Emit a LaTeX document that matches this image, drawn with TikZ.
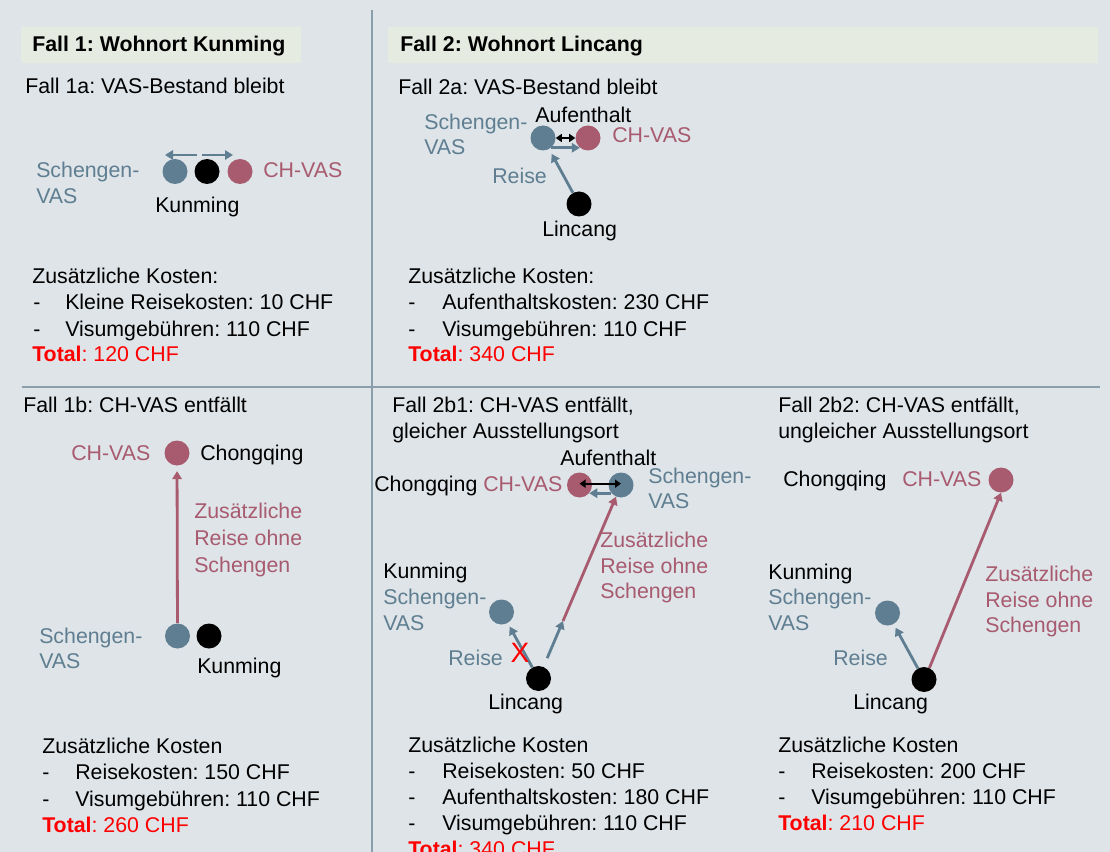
\documentclass[tikz,border=0pt]{standalone}
\usepackage{fontspec}
\setmainfont{Liberation Sans}
\usetikzlibrary{arrows.meta}
\definecolor{bg}{HTML}{DEE4E8}
\definecolor{hdr}{HTML}{E6EBE1}
\definecolor{rulec}{HTML}{8A9EAC}
\definecolor{schblue}{HTML}{5F7E91}
\definecolor{chred}{HTML}{A85A6F}
\definecolor{tot}{HTML}{FF0000}
\newcommand\myfs{\fontsize{16}{19}\selectfont\frenchspacing}
\begin{document}
\begin{tikzpicture}[x=0.75pt,y=-0.75pt,
  txt/.style={font=\myfs, inner sep=0pt, anchor=base west},
  btxt/.style={txt, font=\myfs\bfseries},
  bluetxt/.style={txt, text=schblue},
  redtxt/.style={txt, text=chred},
  tottxt/.style={txt, text=tot},
  dot/.style={circle, minimum size=18.75pt, inner sep=0pt},
  bdot/.style={dot, fill=schblue},
  rdot/.style={dot, fill=chred},
  kdot/.style={dot, fill=black},
  barr/.style={draw=schblue, line width=2.1pt, -{Triangle[length=6pt,width=7pt]}},
  marr/.style={draw=chred, line width=2.1pt, -{Triangle[length=6pt,width=7pt]}},
  dbl/.style={draw=black, line width=1.4pt, {Triangle[length=4.5pt,width=6pt]}-{Triangle[length=4.5pt,width=6pt]}},
  rulel/.style={draw=rulec, line width=1.1pt}
]
\useasboundingbox (0,0) rectangle (1110,852);
\fill[bg] (0,0) rectangle (1110,852);
% dividers
\draw[rulel] (372,10) -- (372,852);
\draw[rulel] (22,387) -- (1100,387);
% headers
\fill[hdr] (21,27) rectangle (301,63);
\fill[hdr] (388,27) rectangle (1098,63);
\node[btxt] (h1) at (32,52) {Fall 1: Wohnort Kunming};
\node[btxt] (h2) at (400,52) {Fall 2: Wohnort Lincang};

% ---------- Fall 1a
\node[txt] (t1a) at (25,94) {Fall 1a: VAS-Bestand bleibt};
\node[bdot] (s1a) at (175,171.5) {};
\node[kdot] (k1a) at (207,171.5) {};
\node[rdot] (c1a) at (240,171.5) {};
\coordinate (a1t) at (197,155);
\coordinate (a1h) at (165,155);
\coordinate (a2t) at (202,155);
\coordinate (a2h) at (233,155);
\draw[barr] (a1t) -- (a1h);
\draw[barr] (a2t) -- (a2h);
\node[bluetxt] (sv1a) at (36,178) {Schengen-};
\node[bluetxt] (sv1b) at (36,204) {VAS};
\node[redtxt] (ch1a) at (263,178) {CH-VAS};
\node[txt] (ku1a) at (155,213) {Kunming};
\node[txt] (zk1a) at (32,284) {Zusätzliche Kosten:};
\node[txt] (d1a1) at (33,310) {-};
\node[txt] (l1a1) at (65,310) {Kleine Reisekosten: 10 CHF};
\node[txt] (d1a2) at (33,336) {-};
\node[txt] (l1a2) at (65,336) {Visumgebühren: 110 CHF};
\node[tottxt] (to1a) at (32,361) {\textbf{Total}: 120 CHF};

% ---------- Fall 2a
\node[txt] (t2a) at (398,95) {Fall 2a: VAS-Bestand bleibt};
\node[bdot] (s2a) at (543,138) {};
\node[rdot] (c2a) at (588,138) {};
\node[kdot] (l2a) at (579,204) {};
\draw[dbl] (s2a) -- (c2a);
\draw[barr] (s2a.-50) -- (c2a.-130);
\draw[barr, shorten >=4pt] (l2a) -- (s2a);
\node[txt] (au2a) at (535,123) {Aufenthalt};
\node[bluetxt] (sv2a) at (424,130) {Schengen-};
\node[bluetxt] (sv2b) at (424,155) {VAS};
\node[redtxt] (ch2a) at (612,143) {CH-VAS};
\node[bluetxt] (re2a) at (492,184) {Reise};
\node[txt] (li2a) at (542,237) {Lincang};
\node[txt] (zk2a) at (408,284) {Zusätzliche Kosten:};
\node[txt] (d2a1) at (408,310) {-};
\node[txt] (l2a1) at (442,310) {Aufenthaltskosten: 230 CHF};
\node[txt] (d2a2) at (408,336) {-};
\node[txt] (l2a2) at (442,336) {Visumgebühren: 110 CHF};
\node[tottxt] (to2a) at (408,361) {\textbf{Total}: 340 CHF};

% ---------- Fall 1b
\node[txt] (t1b) at (23,412) {Fall 1b: CH-VAS entfällt};
\node[rdot] (c1b) at (177,453) {};
\node[bdot] (s1b) at (177.5,636) {};
\node[kdot] (k1b) at (209,636) {};
\draw[marr, shorten >=4pt] (s1b) -- (c1b);
\node[redtxt] (ch1b) at (71,460) {CH-VAS};
\node[txt] (cq1b) at (200,460) {Chongqing};
\node[redtxt] (zr1a) at (194,518) {Zusätzliche};
\node[redtxt] (zr1b) at (194,545) {Reise ohne};
\node[redtxt] (zr1c) at (194,572) {Schengen};
\node[bluetxt] (sv1c) at (39,643) {Schengen-};
\node[bluetxt] (sv1d) at (39,668) {VAS};
\node[txt] (ku1b) at (197,673) {Kunming};
\node[txt] (zk1b) at (42,753) {Zusätzliche Kosten};
\node[txt] (d1b1) at (42,779) {-};
\node[txt] (l1b1) at (75,779) {Reisekosten: 150 CHF};
\node[txt] (d1b2) at (42,806) {-};
\node[txt] (l1b2) at (75,806) {Visumgebühren: 110 CHF};
\node[tottxt] (to1b) at (42,832) {\textbf{Total}: 260 CHF};

% ---------- Fall 2b1
\node[txt] (t2b1a) at (392,412) {Fall 2b1: CH-VAS entfällt,};
\node[txt] (t2b1b) at (392,438) {gleicher Ausstellungsort};
\node[rdot] (c2b1) at (579.5,485) {};
\node[bdot] (s2b1) at (621,485) {};
\node[bdot] (k2b1) at (501.5,612) {};
\node[kdot] (l2b1) at (538.5,678.5) {};
\draw[dbl] ([yshift=1pt]c2b1.center) -- ([yshift=1pt]s2b1.center);
\draw[barr] (s2b1.-140) -- (c2b1.-40);
\coordinate (m2b1) at (563,621);
\draw[barr, shorten >=3pt] (l2b1) -- (k2b1);
\draw[barr, shorten <=7pt] (l2b1) -- (m2b1);
\draw[marr] (m2b1) -- (s2b1);
\node[txt] (au2b1) at (560,465) {Aufenthalt};
\node[txt] (cq2b1) at (374,491) {Chongqing};
\node[redtxt] (ch2b1) at (483,491) {CH-VAS};
\node[bluetxt] (sv2c) at (648,483) {Schengen-};
\node[bluetxt] (sv2d) at (648,508) {VAS};
\node[redtxt] (zr2a) at (600,547) {Zusätzliche};
\node[redtxt] (zr2b) at (600,573) {Reise ohne};
\node[redtxt] (zr2c) at (600,598) {Schengen};
\node[txt] (ku2b1) at (383,578) {Kunming};
\node[bluetxt] (sv2e) at (383,604) {Schengen-};
\node[bluetxt] (sv2f) at (383,630) {VAS};
\node[bluetxt] (re2b1) at (448,665) {Reise};
\node[font=\fontsize{21}{24}\selectfont, text=tot, inner sep=0pt] (x2b1) at (520,653) {X};
\node[txt] (li2b1) at (488,709) {Lincang};
\node[txt] (zk2b1) at (408,752) {Zusätzliche Kosten};
\node[txt] (d2b11) at (408,778) {-};
\node[txt] (l2b11) at (442,778) {Reisekosten: 50 CHF};
\node[txt] (d2b12) at (408,804) {-};
\node[txt] (l2b12) at (442,804) {Aufenthaltskosten: 180 CHF};
\node[txt] (d2b13) at (408,830) {-};
\node[txt] (l2b13) at (442,830) {Visumgebühren: 110 CHF};
\node[tottxt] (to2b1) at (408,856) {\textbf{Total}: 340 CHF};

% ---------- Fall 2b2
\node[txt] (t2b2a) at (778,412) {Fall 2b2: CH-VAS entfällt,};
\node[txt] (t2b2b) at (778,438) {ungleicher Ausstellungsort};
\node[rdot] (c2b2) at (1001,480) {};
\node[bdot] (k2b2) at (887.5,613) {};
\node[kdot] (l2b2) at (924,679.5) {};
\draw[barr, shorten >=3pt] (l2b2) -- (k2b2);
\draw[marr] (l2b2.65) -- (c2b2.south);
\node[txt] (cq2b2) at (783,486) {Chongqing};
\node[redtxt] (ch2b2) at (902,486) {CH-VAS};
\node[txt] (ku2b2) at (768,579) {Kunming};
\node[bluetxt] (sv2g) at (768,604) {Schengen-};
\node[bluetxt] (sv2h) at (768,630) {VAS};
\node[bluetxt] (re2b2) at (833,665) {Reise};
\node[txt] (li2b2) at (853,709) {Lincang};
\node[redtxt] (zr2d) at (985,581) {Zusätzliche};
\node[redtxt] (zr2e) at (985,607) {Reise ohne};
\node[redtxt] (zr2f) at (985,632) {Schengen};
\node[txt] (zk2b2) at (778,752) {Zusätzliche Kosten};
\node[txt] (d2b21) at (778,778) {-};
\node[txt] (l2b21) at (811,778) {Reisekosten: 200 CHF};
\node[txt] (d2b22) at (778,804) {-};
\node[txt] (l2b22) at (811,804) {Visumgebühren: 110 CHF};
\node[tottxt] (to2b2) at (778,830) {\textbf{Total}: 210 CHF};
\end{tikzpicture}
\end{document}
